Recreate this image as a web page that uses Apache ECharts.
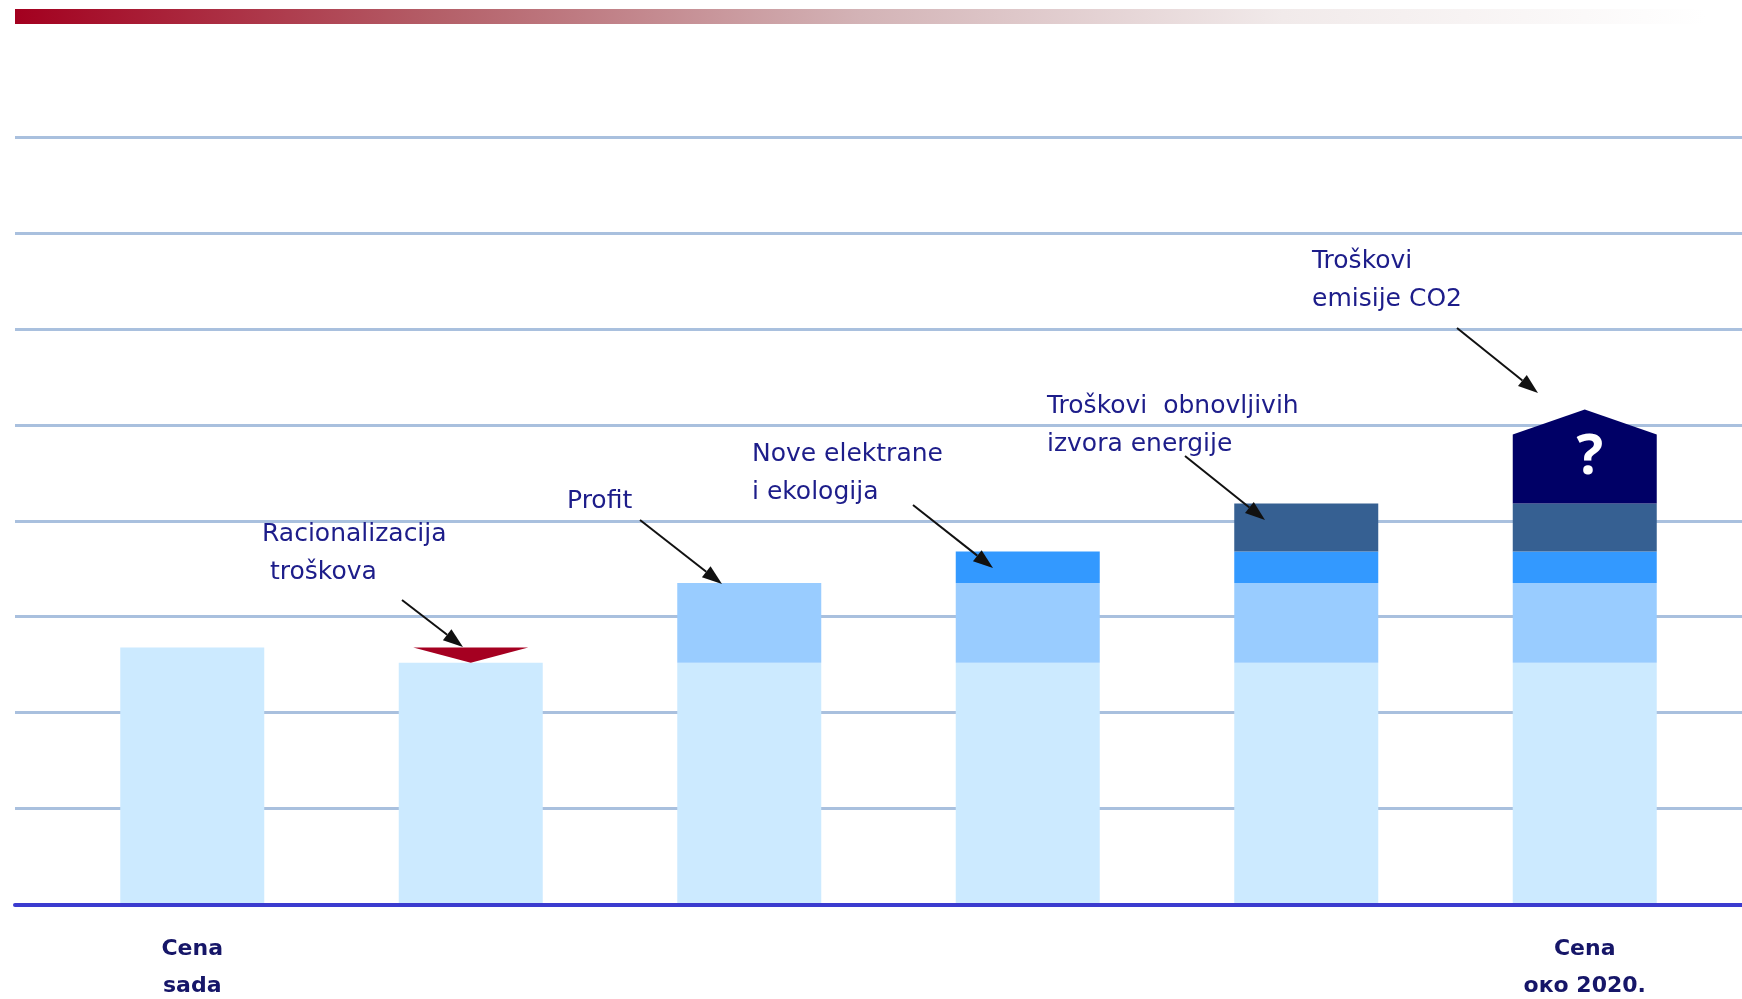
<!DOCTYPE html>
<html>
<head>
<meta charset="utf-8">
<script src="https://cdn.jsdelivr.net/npm/echarts@6/dist/echarts.min.js"></script>
<style>
  html, body { margin: 0; padding: 0; background: #fff; }
  #chart { width: 1742px; height: 999px; }
</style>
</head>
<body>
<div id="chart"></div>
<script>
// stages of the electricity price, left to right
const categories = ['now', 'rationalization', 'profit', 'newPlants', 'renewables', 'future']
const axisLabels = ['Cena\nsada', '', '', '', '', 'Cena\nоко 2020.']

// stacked cost layers (arbitrary units, one gridline = 1)
const baseCost = [2.68, 2.52, 2.52, 2.52, 2.52, 2.52]
const profit = [0, 0, 0.83, 0.83, 0.83, 0.83]
const newPlants = [0, 0, 0, 0.33, 0.33, 0.33]
const renewables = [0, 0, 0, 0, 0.5, 0.5]
const co2Cost = [0, 0, 0, 0, 0, 0.72]
const co2Peak = [0, 0, 0, 0, 0, 0.26]
const savings = [0, 0.16, 0, 0, 0, 0]

const textColor = '#1d1d8a'
const font = 'DejaVu Sans'

// annotation texts and arrows (pixel layout)
const notes = [
  { lines: ['Racionalizacija', ' troškova'], x: 262, y: 534, arrow: [402, 600, 463, 647] },
  { lines: ['Profit'], x: 567, y: 501, arrow: [640, 520, 722, 584] },
  { lines: ['Nove elektrane', 'i ekologija'], x: 752, y: 454, arrow: [913, 505, 993, 568] },
  { lines: ['Troškovi  obnovljivih', 'izvora energije'], x: 1047, y: 406, arrow: [1185, 456, 1265, 520] },
  { lines: ['Troškovi', 'emisije CO2'], x: 1312, y: 261, arrow: [1457, 328, 1538, 393] },
]

const arrow = (x1, y1, x2, y2) => {
  const a = Math.atan2(y2 - y1, x2 - x1)
  const len = 20
  const w = 7
  const bx = x2 - len * Math.cos(a)
  const by = y2 - len * Math.sin(a)
  return [
    { type: 'line', z: 100, shape: { x1, y1, x2: bx, y2: by }, style: { stroke: '#111', lineWidth: 2 } },
    {
      type: 'polygon',
      z: 100,
      shape: {
        points: [
          [x2, y2],
          [bx + w * Math.sin(a), by - w * Math.cos(a)],
          [bx - w * Math.sin(a), by + w * Math.cos(a)],
        ],
      },
      style: { fill: '#111' },
    },
  ]
}

const graphics = [
  {
    type: 'rect',
    shape: { x: 15, y: 9, width: 1690, height: 15 },
    style: {
      fill: new echarts.graphic.LinearGradient(0, 0, 1, 0, [
        { offset: 0, color: '#a3001f' },
        { offset: 0.25, color: '#b45f68' },
        { offset: 0.5, color: '#d3b3b6' },
        { offset: 0.75, color: '#f1eaea' },
        { offset: 1, color: '#ffffff' },
      ]),
    },
  },
]
notes.forEach((n) => {
  n.lines.forEach((line, k) => {
    graphics.push({
      type: 'text',
      z: 100,
      style: {
        text: line,
        x: n.x,
        y: n.y + k * 38.5,
        fill: textColor,
        font: '25px "' + font + '"',
        verticalAlign: 'middle',
      },
    })
  })
  graphics.push(...arrow(...n.arrow))
})

const stackSeries = (name, data, color) => ({
  name,
  type: 'bar',
  stack: 'price',
  xAxisIndex: 1,
  yAxisIndex: 1,
  barWidth: 144,
  data,
  itemStyle: { color },
})

// pointed CO2 block on top of the stack, red wedge for the cost cut
const co2Data = []
const savingsData = []
categories.forEach((c, i) => {
  const bottom = baseCost[i] + profit[i] + newPlants[i] + renewables[i]
  if (co2Cost[i] > 0) co2Data.push([i, bottom, bottom + co2Cost[i], bottom + co2Cost[i] + co2Peak[i]])
  if (savings[i] > 0) savingsData.push([i, baseCost[i], baseCost[i] + savings[i]])
})

const chart = echarts.init(document.getElementById('chart'))

const option = {
  animation: false,
  graphic: graphics,
  grid: [
    { left: 15, right: 0, top: 137, bottom: 94.5, outerBoundsMode: 'none' },
    { left: 53, right: 18, top: 137, bottom: 94.5, outerBoundsMode: 'none' },
  ],
  xAxis: [
    {
      type: 'value',
      gridIndex: 0,
      z: 10,
      axisLine: { show: true, lineStyle: { color: '#3b3bcf', width: 4 } },
      axisTick: { show: false },
      axisLabel: { show: false },
      splitLine: { show: false },
    },
    {
      type: 'category',
      gridIndex: 1,
      data: categories,
      axisLine: { show: false },
      axisTick: { show: false },
      axisLabel: {
        formatter: (v, i) => axisLabels[i],
        color: '#161668',
        fontFamily: font,
        fontWeight: 'bold',
        fontSize: 22,
        lineHeight: 37,
        margin: 26,
      },
    },
  ],
  yAxis: [
    {
      type: 'value',
      gridIndex: 0,
      min: 0,
      max: 8,
      interval: 1,
      axisLine: { show: false },
      axisTick: { show: false },
      axisLabel: { show: false },
      splitLine: { lineStyle: { color: '#a9c0de', width: 3 } },
    },
    { type: 'value', gridIndex: 1, min: 0, max: 8, interval: 1, show: false },
  ],
  series: [
    stackSeries('Osnovna cena', baseCost, '#cceaff'),
    stackSeries('Profit', profit, '#99ccff'),
    stackSeries('Nove elektrane i ekologija', newPlants, '#3399ff'),
    stackSeries('Troškovi obnovljivih izvora energije', renewables, '#366092'),
    {
      name: 'Troškovi emisije CO2',
      type: 'custom',
      xAxisIndex: 1,
      yAxisIndex: 1,
      z: 3,
      data: co2Data,
      renderItem: (params, api) => {
        const w = 144
        const pB = api.coord([api.value(0), api.value(1)])
        const pS = api.coord([api.value(0), api.value(2)])
        const pP = api.coord([api.value(0), api.value(3)])
        return {
          type: 'group',
          children: [
            {
              type: 'polygon',
              shape: {
                points: [
                  [pB[0] - w / 2, pB[1]],
                  [pB[0] + w / 2, pB[1]],
                  [pS[0] + w / 2, pS[1]],
                  [pP[0], pP[1]],
                  [pS[0] - w / 2, pS[1]],
                ],
              },
              style: { fill: '#000066' },
            },
            {
              type: 'text',
              style: {
                text: '?',
                x: pB[0] + 5,
                y: (pB[1] + pP[1]) / 2 + 2,
                fill: '#ffffff',
                font: 'bold 56px "Open Sans"',
                align: 'center',
                verticalAlign: 'middle',
              },
            },
          ],
        }
      },
    },
    {
      name: 'Racionalizacija troškova',
      type: 'custom',
      xAxisIndex: 1,
      yAxisIndex: 1,
      z: 3,
      data: savingsData,
      renderItem: (params, api) => {
        const w = 115
        const pB = api.coord([api.value(0), api.value(1)])
        const pT = api.coord([api.value(0), api.value(2)])
        return {
          type: 'polygon',
          shape: {
            points: [
              [pT[0] - w / 2, pT[1]],
              [pT[0] + w / 2, pT[1]],
              [pB[0], pB[1]],
            ],
          },
          style: { fill: '#a50021' },
        }
      },
    },
  ],
}

chart.setOption(option)
</script>
</body>
</html>
